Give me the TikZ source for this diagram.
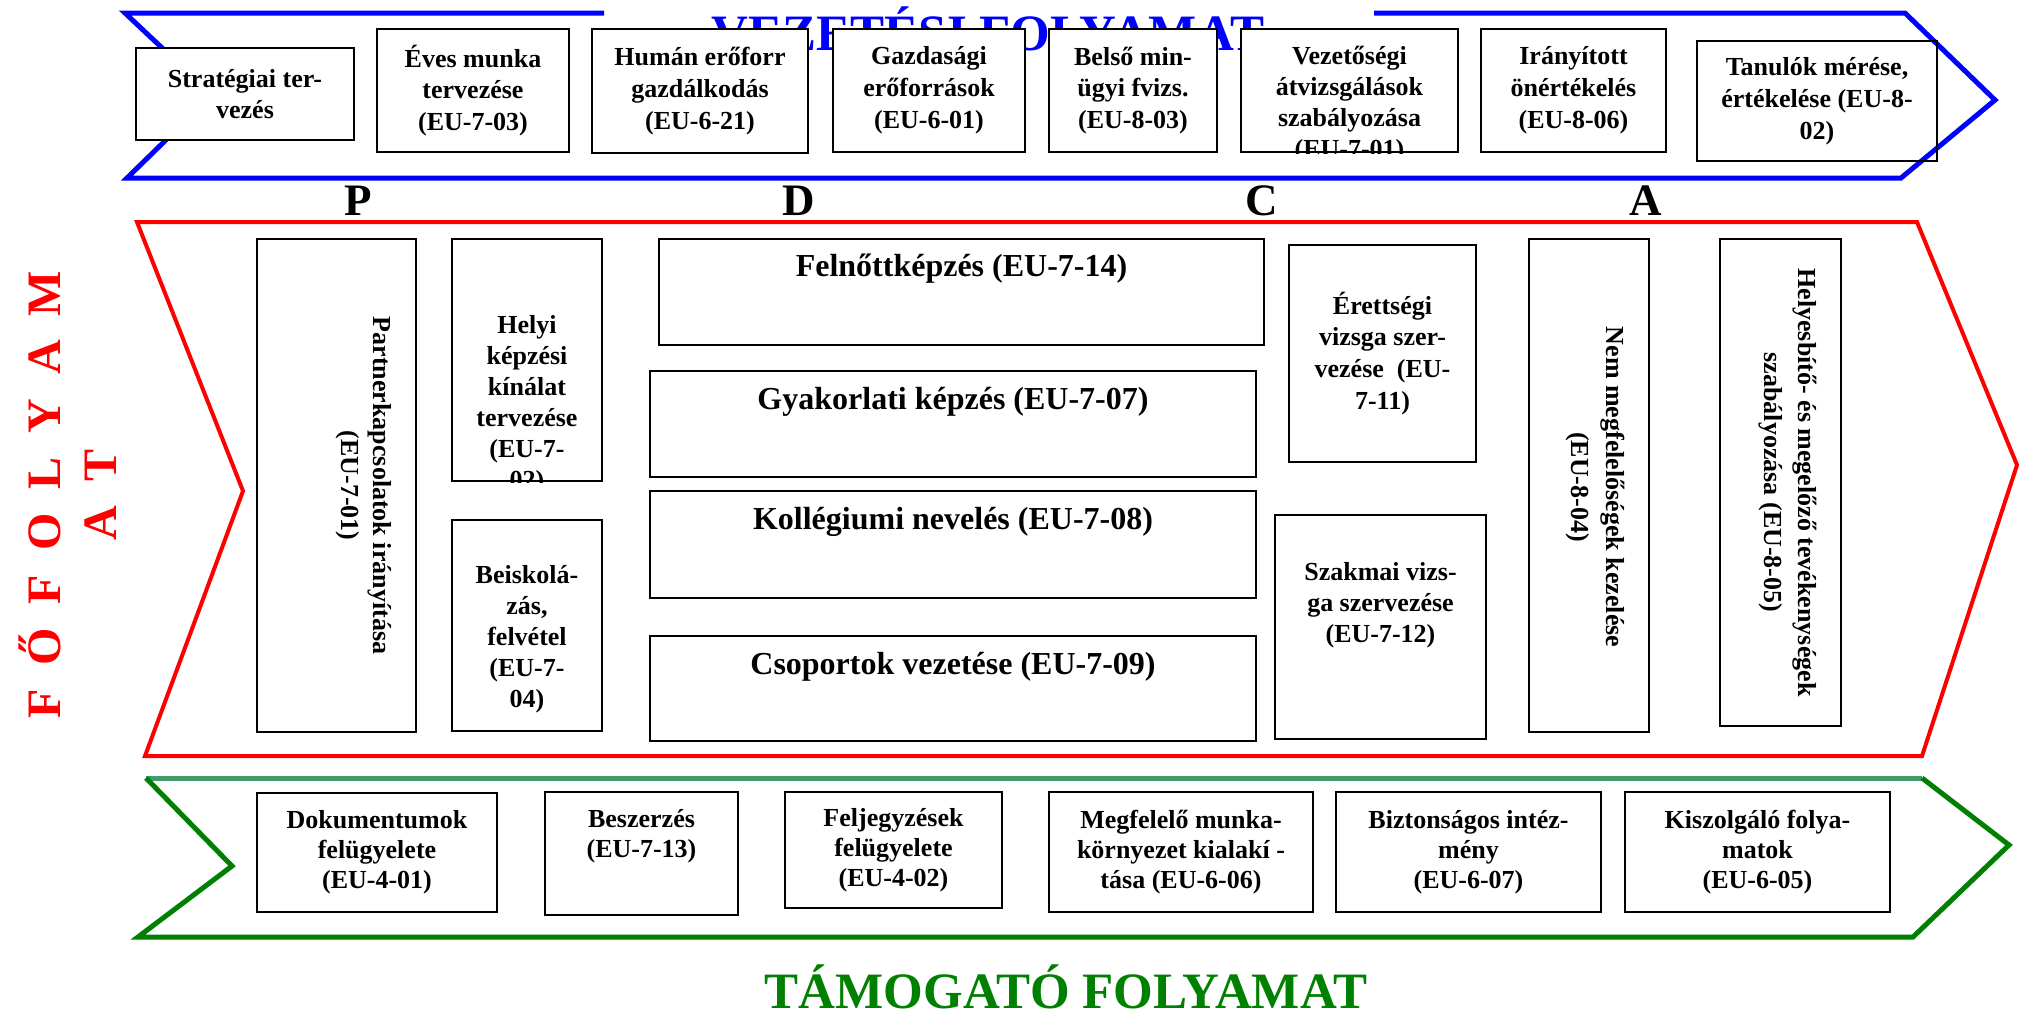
\documentclass[tikz,border=0pt]{standalone}
\usepackage{fontspec}
\setmainfont{Liberation Serif}
\usepackage{tikz}
\usetikzlibrary{calc}
\usepackage{xcolor}

\definecolor{vezblue}{RGB}{0,0,255}
\definecolor{fored}{RGB}{255,0,0}
\definecolor{tamgreen}{RGB}{0,128,0}
\definecolor{tamlight}{RGB}{64,156,104}

\begin{document}
\begin{tikzpicture}[
  x=0.5pt, y=-0.5pt,
  procbox/.style={rectangle, draw, line width=1pt, fill=white, inner sep=0pt, align=center, font=\fontsize{13}{15.9}\selectfont\bfseries},
  boxtext/.style={align=center, inner sep=0pt, font=\fontsize{13}{15.5}\selectfont\bfseries},
  widetext/.style={align=center, inner sep=0pt, font=\fontsize{16}{19}\selectfont\bfseries},
  sidetext/.style={align=center, inner sep=0pt, rotate=-90, font=\fontsize{13}{16.5}\selectfont\bfseries},
  pdca/.style={anchor=base, inner sep=0pt, font=\fontsize{22.5}{27}\selectfont\bfseries},
  flowtitle/.style={anchor=base, inner sep=0pt, font=\fontsize{25.5}{30}\selectfont\bfseries},
  flowline/.style={line width=2.5pt, line join=miter}
]
    \useasboundingbox (0,0) rectangle (2020,1013);

    % Arrows
    \draw[flowline, vezblue] (604,13) -- (125,13) -- (212,95) -- (127,178) -- (1901,178) -- (1995,100) -- (1905,13) -- (1374,13);
    \draw[flowline, fored, line width=2pt] (137,222) -- (1917,222) -- (2017,465) -- (1922,756) -- (145,756) -- (243,491) -- cycle;
    \draw[flowline, tamlight] (146,778) -- (1922,778);
    \draw[flowline, tamgreen] (1922,778) -- (2009,845) -- (1913,937) -- (138,937) -- (232,866) -- (146,778);

    % Titles
    \node[flowtitle, vezblue] (vtitle) at (988,50) {VEZETÉSI FOLYAMAT};
    \node[flowtitle, tamgreen] (ttitle) at (1066,1008) {TÁMOGATÓ FOLYAMAT};
    \node[rotate=90, align=center, inner sep=0pt, text=fored, font=\fontsize{24}{28}\selectfont\bfseries] (ftitle) at (68,495) {F\ \ Ő\ \ F\ \ O\ \ L\ \ Y\ \ A\ \ M\\A\ \ T};

    % Vezetesi folyamat
    \node[procbox, minimum width=109pt, minimum height=46pt] (v1) at (245,94) {Stratégiai ter-\\vezés};
    \node[procbox, minimum width=96pt, minimum height=61.5pt] (v2) at (473,90.5) {Éves munka\\tervezése\\(EU-7-03)};
    \node[procbox, minimum width=108pt, minimum height=62pt] (v3) at (700,91) {Humán erőforr\\gazdálkodás\\(EU-6-21)};
    \node[procbox, minimum width=96pt, minimum height=61.5pt] (v4) at (929,90.5) {Gazdasági\\erőforrások\\(EU-6-01)};
    \node[procbox, minimum width=84pt, minimum height=61.5pt] (v5) at (1133,90.5) {Belső min-\\ügyi fvizs.\\(EU-8-03)};
    \node[procbox, minimum width=108.5pt, minimum height=61.5pt] (v6) at (1349.5,90.5) {};
    \begin{scope}
      \clip (v6.south west) rectangle (v6.north east);
      \node[boxtext] (v6t) at ($(v6)+(0,14)$) {Vezetőségi\\átvizsgálások\\szabályozása\\(EU-7-01)};
    \end{scope}
    \node[procbox, minimum width=92.5pt, minimum height=61.5pt] (v7) at (1573.5,90.5) {Irányított\\önértékelés\\(EU-8-06)};
    \node[procbox, fill=none, minimum width=120pt, minimum height=60pt] (v8) at (1817,101) {Tanulók mérése,\\értékelése (EU-8-\\02)};

    % PDCA
    \node[pdca] (p) at (358,215) {P};
    \node[pdca] (d) at (799,215) {D};
    \node[pdca] (c) at (1262,215) {C};
    \node[pdca] (a) at (1646,215) {A};

    % Fofolyamat
    \node[procbox, minimum width=79.5pt, minimum height=246.5pt] (fp) at (336.5,485.5) {};
    \node[sidetext, font=\fontsize{13}{16}\selectfont\bfseries] (fpt) at ($(fp)+(27,0)$) {Partnerkapcsolatok irányítása\\(EU-7-01)};
    \node[procbox, minimum width=75pt, minimum height=121pt] (fh) at (527,360) {};
    \begin{scope}
      \clip (fh.south west) rectangle (fh.north east);
      \node[boxtext] (fht) at ($(fh)+(0,44.5)$) {Helyi\\képzési\\kínálat\\tervezése\\(EU-7-\\02)};
    \end{scope}
    \node[procbox, minimum width=75pt, minimum height=105.5pt] (fb) at (527,625.5) {};
    \node[boxtext] (fbt) at ($(fb)+(0,13.5)$) {Beiskolá-\\zás,\\felvétel\\(EU-7-\\04)};

    \node[procbox, minimum width=302.5pt, minimum height=53pt] (f1) at (961.5,292) {};
    \node[widetext] (f1t) at ($(f1.north)+(0,31)$) {Felnőttképzés (EU-7-14)};
    \node[procbox, minimum width=303pt, minimum height=53pt] (f2) at (953,424) {};
    \node[widetext] (f2t) at ($(f2.north)+(0,32)$) {Gyakorlati képzés (EU-7-07)};
    \node[procbox, minimum width=303pt, minimum height=53.5pt] (f3) at (953,544.5) {};
    \node[widetext] (f3t) at ($(f3.north)+(0,32)$) {Kollégiumi nevelés (EU-7-08)};
    \node[procbox, minimum width=303pt, minimum height=52.5pt] (f4) at (953,688.5) {};
    \node[widetext] (f4t) at ($(f4.north)+(0,32)$) {Csoportok vezetése (EU-7-09)};

    \node[procbox, minimum width=93.5pt, minimum height=108.5pt] (fe) at (1382.5,353.5) {Érettségi\\vizsga szer-\\vezése\ \ (EU-\\7-11)};
    \node[procbox, minimum width=105.5pt, minimum height=112pt] (fs) at (1380.5,627) {};
    \node[boxtext] (fst) at ($(fs)+(0,-22)$) {Szakmai vizs-\\ga szervezése\\(EU-7-12)};
    \node[procbox, minimum width=60pt, minimum height=246.5pt] (fn) at (1589,485.5) {};
    \node[sidetext, font=\fontsize{13}{17.5}\selectfont\bfseries] (fnt) at ($(fn)+(6.5,1.5)$) {Nem megfelelőségek kezelése\\(EU-8-04)};
    \node[procbox, minimum width=60.5pt, minimum height=243.5pt] (fk) at (1780.5,482.5) {};
    \node[sidetext, font=\fontsize{13}{17}\selectfont\bfseries] (fkt) at ($(fk)+(7.5,0)$) {Helyesbítő- és megelőző tevékenységek\\szabályozása (EU-8-05)};

    % Tamogato folyamat
    \node[procbox, minimum width=120pt, minimum height=59.5pt, font=\fontsize{13}{15}\selectfont\bfseries] (t1) at (377,852.5) {Dokumentumok\\felügyelete\\(EU-4-01)};
    \node[procbox, minimum width=96.5pt, minimum height=61.5pt] (t2) at (641.5,853.5) {};
    \node[boxtext, font=\fontsize{13}{15}\selectfont\bfseries] (t2t) at ($(t2.north)+(0,45.5)$) {Beszerzés\\(EU-7-13)};
    \node[procbox, minimum width=108.5pt, minimum height=58pt, font=\fontsize{13}{15}\selectfont\bfseries] (t3) at (893.5,850) {Feljegyzések\\felügyelete\\(EU-4-02)};
    \node[procbox, minimum width=132pt, minimum height=60pt, font=\fontsize{13}{15}\selectfont\bfseries] (t4) at (1181,852) {Megfelelő munka-\\környezet kialakí -\\tása (EU-6-06)};
    \node[procbox, minimum width=132.5pt, minimum height=60pt, font=\fontsize{13}{15}\selectfont\bfseries] (t5) at (1468.5,852) {Biztonságos intéz-\\mény\\(EU-6-07)};
    \node[procbox, minimum width=132.5pt, minimum height=60pt, font=\fontsize{13}{15}\selectfont\bfseries] (t6) at (1757.5,852) {Kiszolgáló folya-\\matok\\(EU-6-05)};

\end{tikzpicture}
\end{document}
